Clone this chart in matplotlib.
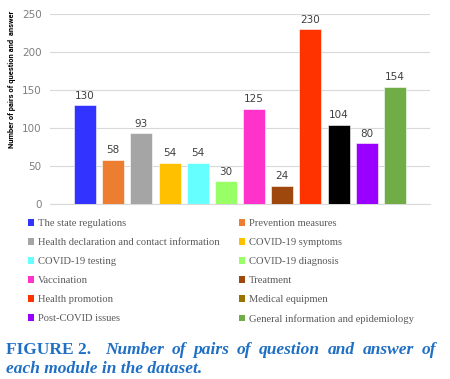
import matplotlib
matplotlib.use("Agg")
import matplotlib.pyplot as plt
from matplotlib.patches import Patch
import numpy as np

# modules and number of QA pairs
modules = ["The state regulations", "Prevention measures",
           "Health declaration and contact information", "COVID-19 symptoms",
           "COVID-19 testing", "COVID-19 diagnosis",
           "Vaccination", "Treatment",
           "Health promotion", "Medical equipmen",
           "Post-COVID issues", "General information and epidemiology"]
counts = [130, 58, 93, 54, 54, 30, 125, 24, 230, 104, 80, 154]
bar_colors = ["#3333ff", "#ed7d31", "#a5a5a5", "#ffc000", "#66ffff", "#99ff66",
              "#ff33cc", "#9e480e", "#ff3300", "#000000", "#9900ff", "#70ad47"]
# legend swatch for "Medical equipmen" differs from its bar in the original
legend_colors = bar_colors[:9] + ["#997300"] + bar_colors[10:]

W, H = 450, 379
fig = plt.figure(figsize=(W / 100, H / 100), dpi=100)
ax = fig.add_axes([50 / W, 1 - 204 / H, 380 / W, 190 / H])

x = np.arange(len(counts))
ax.bar(x, counts, width=0.78, color=bar_colors, edgecolor="white", linewidth=0.4, zorder=3)
for xi, v in zip(x, counts):
    ax.text(xi, v + 6, str(v), ha="center", va="bottom", fontsize=7.5,
            color="#404040", family="DejaVu Sans")

ax.set_xlim(-1.24, 12.24)
ax.set_ylim(0, 250)
ax.set_yticks(range(0, 251, 50))
ax.yaxis.grid(True, color="#d9d9d9", linewidth=0.8, zorder=0)
ax.set_xticks([])
for s in ["top", "right", "left"]:
    ax.spines[s].set_visible(False)
ax.spines["bottom"].set_color("#d9d9d9")
ax.tick_params(axis="y", length=0, labelsize=7.5, labelcolor="#7f7f7f", pad=6)
ax.set_ylabel("Number of pairs of question and  answer", fontsize=5.4,
              fontweight="bold", color="black", family="Roboto")
ax.yaxis.set_label_coords(-0.089, 0.655)

# legend is filled column-wise, so reorder to read row-wise like the original
order = list(range(0, 12, 2)) + list(range(1, 12, 2))
handles = [Patch(facecolor=legend_colors[i], edgecolor="none") for i in order]
labels = [modules[i] for i in order]
fig.legend(handles, labels, ncol=2, loc="upper left",
           bbox_to_anchor=(28 / W, 1 - 219 / H), frameon=False,
           prop={"family": "Liberation Serif", "size": 7.6}, labelcolor="#595959",
           handlelength=0.6, handleheight=0.6, handletextpad=0.35,
           columnspacing=1.8, labelspacing=0.94, borderaxespad=0, borderpad=0)

# caption, first line justified between x=105 and x=436 px
blue = "#1f6fc5"
cap = dict(fontsize=12.5, fontweight="bold", color=blue,
           family="Liberation Serif", va="center")
fig.text(6 / W, 1 - 350 / H, "FIGURE 2.", **cap)
words = "Number of pairs of question and answer of".split()
renderer = fig.canvas.get_renderer()
objs = [fig.text(0, 1 - 350 / H, w, style="italic", **cap) for w in words]
widths = [o.get_window_extent(renderer).width for o in objs]
gap = (436 - 105 - sum(widths)) / (len(words) - 1)
pos = 105
for o, w in zip(objs, widths):
    o.set_x(pos / W)
    pos += w + gap
fig.text(6 / W, 1 - 369 / H, "each module in the dataset.", style="italic", **cap)

fig.savefig("out.png", dpi=100)
